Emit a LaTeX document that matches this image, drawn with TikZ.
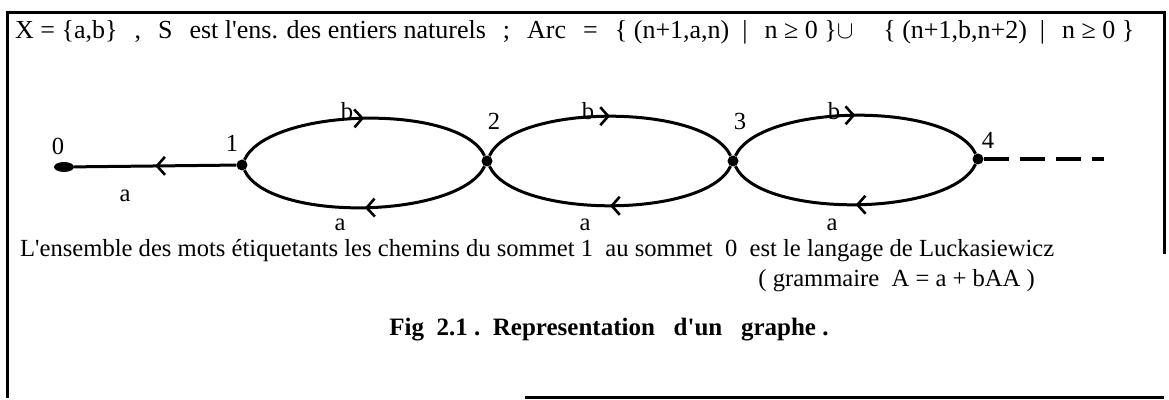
\documentclass[tikz,border=0pt]{standalone}
\usepackage{fontspec}
\setmainfont{Liberation Serif}
\usetikzlibrary{arrows.meta,decorations.markings,shapes.geometric}

\newcommand{\gap}{\hspace{17pt}}
\newcommand{\q}{\textquotesingle}

\tikzset{
    vertex/.style={circle, fill=black, inner sep=0pt, minimum size=11pt},
    lbl/.style={inner sep=0pt, font=\fontsize{24.6}{26}\selectfont},
    arcline/.style={line width=3pt},
    midarrow/.style={postaction={decorate}, decoration={markings,
        mark=at position 0.5 with {\arrow{Straight Barb[length=8pt, width=18pt, line width=2.6pt]}}}}
}

\begin{document}
\begin{tikzpicture}[x=1pt, y=1pt]
    \useasboundingbox (0,0) rectangle (1169,399);
    % scanned frame, partly missing on the right and bottom
    \draw[line width=3pt] (1164,145) -- (1164,386) -- (7,386) -- (7,1);
    \draw[line width=3pt] (525,2) -- (1164,2);

    \node[lbl, anchor=base west, font=\fontsize{26}{28}\selectfont] (title) at (15,360)
        {X = \{a,b\}\gap,\gap S\gap est l\q ens. des entiers naturels\gap;\gap Arc\gap=\gap\{ (n+1,a,n)\ \ |\gap n ≥ 0 \}$\cup$\gap\ \ \{ (n+1,b,n+2)\ \ |\gap n ≥ 0 \}};

    \node[vertex, ellipse, minimum width=20pt, minimum height=10pt] (n0) at (64,232) {};
    \node[vertex] (n1) at (242,234) {};
    \node[vertex] (n2) at (487,238) {};
    \node[vertex] (n3) at (733,238) {};
    \node[vertex] (n4) at (978,240) {};
    \coordinate (tail) at (1104,240);

    \node[lbl] (l0) at (58,253) {0};
    \node[lbl] (l1) at (232,256) {1};
    \node[lbl] (l2) at (494,278) {2};
    \node[lbl] (l3) at (740,278) {3};
    \node[lbl] (l4) at (988,259) {4};

    % a-edges (n+1 -> n)
    \draw[arcline, midarrow] (n1) -- (n0);
    \draw[arcline, midarrow] (n2) to[out=-115, in=-65, looseness=0.62] (n1);
    \draw[arcline, midarrow] (n3) to[out=-115, in=-65, looseness=0.62] (n2);
    \draw[arcline, midarrow] (n4) to[out=-115, in=-65, looseness=0.62] (n3);

    % b-edges (n+1 -> n+2)
    \draw[arcline, midarrow] (n1) to[out=65, in=115, looseness=0.62] (n2);
    \draw[arcline, midarrow] (n2) to[out=65, in=115, looseness=0.62] (n3);
    \draw[arcline, midarrow] (n3) to[out=65, in=115, looseness=0.62] (n4);

    % the graph goes on
    \draw[line width=4.5pt, dash pattern=on 25pt off 11pt] (n4) -- (tail);

    \node[lbl] (a0) at (125,203) {a};
    \node[lbl] (a1) at (340,174) {a};
    \node[lbl] (a2) at (585,174) {a};
    \node[lbl] (a3) at (832,174) {a};
    \node[lbl] (b1) at (347,288) {b};
    \node[lbl] (b2) at (588,288) {b};
    \node[lbl] (b3) at (834,288) {b};

    \node[lbl, anchor=base west] (txt) at (20,142)
        {L\q ensemble des mots étiquetants les chemins du sommet 1\ \ au sommet\ \ 0\ \ est le langage de Luckasiewicz};
    \node[lbl, anchor=base east] (gram) at (1035,112)
        {( grammaire\ \ A = a + bAA )};

    \node[inner sep=0pt, font=\fontsize{25}{27}\selectfont\bfseries] (fig) at (609,69)
        {Fig\ \ 2.1 .\ \ Representation\ \ \ d\q un\ \ \ graphe .};
\end{tikzpicture}
\end{document}
